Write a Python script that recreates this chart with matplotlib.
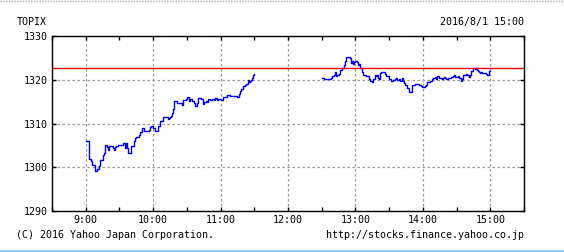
import numpy as np
import matplotlib.pyplot as plt
from matplotlib.lines import Line2D

# Ranni sesiya: hvylyny vid 9:00 ta znachennya TOPIX
am_min = [0, 2, 3, 5, 6, 8, 10, 12, 13, 15, 16, 17, 19, 20, 21, 24, 25, 26, 27, 29,
          33, 35, 36, 37, 38, 40, 43, 44, 45, 47, 48, 50, 52, 56, 57, 58, 60, 62, 64, 66,
          69, 73, 74, 75, 76, 77, 78, 79, 81, 86, 87, 89, 90, 92, 93, 95, 96, 97, 99, 100,
          103, 104, 105, 107, 108, 109, 111, 112, 114, 115, 117, 118, 120, 121, 122, 126, 128, 135, 136, 137,
          138, 140, 142, 143, 144, 145, 146, 147, 148, 149, 150]
am_val = [1306.1, 1306.0, 1301.8, 1301.4, 1300.5, 1299.2, 1299.6, 1300.2, 1301.6, 1302.7,
          1303.3, 1305.2, 1304.7, 1303.9, 1304.9, 1304.3, 1304.0, 1304.7, 1304.8, 1305.2,
          1305.5, 1304.5, 1305.6, 1304.3, 1303.3, 1304.9, 1306.1, 1306.6, 1306.9, 1307.3,
          1308.0, 1308.9, 1308.3, 1308.5, 1309.3, 1309.5, 1308.9, 1308.4, 1309.4, 1310.5,
          1311.5, 1311.1, 1311.2, 1311.5, 1311.7, 1312.4, 1313.4, 1315.2, 1314.8, 1314.2,
          1315.3, 1315.5, 1316.1, 1315.2, 1315.6, 1315.2, 1314.7, 1314.1, 1314.6, 1315.8,
          1315.5, 1314.5, 1315.0, 1315.2, 1315.0, 1315.5, 1315.3, 1315.5, 1315.4, 1315.9,
          1315.4, 1315.6, 1315.4, 1315.3, 1316.1, 1316.5, 1316.2, 1316.1, 1316.8, 1317.4,
          1318.0, 1318.5, 1318.7, 1319.0, 1319.9, 1319.4, 1319.7, 1320.0, 1320.5, 1321.2, 1321.4]

# Vechirnya sesiya: hvylyny vid 12:30
pm_min = [0, 2, 6, 8, 9, 11, 12, 13, 14, 15, 16, 18, 19, 20, 21, 22, 25, 26, 27, 28,
          29, 30, 31, 32, 33, 34, 36, 37, 39, 42, 43, 45, 46, 47, 48, 49, 50, 51, 52, 53,
          55, 56, 57, 60, 62, 63, 65, 66, 67, 69, 70, 71, 72, 73, 74, 76, 78, 80, 83, 87,
          88, 89, 91, 92, 93, 94, 96, 98, 99, 101, 102, 103, 104, 106, 107, 108, 109, 110, 111, 112,
          114, 115, 117, 118, 119, 121, 122, 124, 125, 126, 128, 129, 131, 132, 133, 134, 135, 136, 137, 138,
          139, 140, 141, 142, 143, 146, 147, 148, 149, 150]
pm_val = [1320.4, 1320.1, 1320.2, 1320.3, 1320.9, 1321.1, 1321.7, 1320.8, 1321.1, 1321.3,
          1322.3, 1322.6, 1322.8, 1323.4, 1324.3, 1325.1, 1324.9, 1323.9, 1324.3, 1323.6,
          1324.0, 1324.2, 1324.1, 1323.3, 1323.5, 1322.7, 1321.8, 1321.2, 1320.8, 1320.2,
          1319.7, 1319.4, 1320.2, 1321.1, 1320.9, 1321.1, 1320.5, 1320.1, 1321.5, 1321.8,
          1321.7, 1321.4, 1320.8, 1320.1, 1319.7, 1319.9, 1320.2, 1320.3, 1320.0, 1320.2,
          1319.8, 1320.4, 1319.8, 1319.2, 1318.9, 1318.2, 1317.3, 1318.9, 1319.0, 1318.8,
          1318.5, 1318.4, 1318.3, 1318.5, 1318.8, 1319.5, 1319.7, 1320.2, 1320.5, 1320.6,
          1320.2, 1320.8, 1320.3, 1320.5, 1320.1, 1320.3, 1320.6, 1320.4, 1320.2, 1320.5,
          1320.5, 1320.6, 1320.8, 1321.1, 1320.7, 1320.9, 1320.3, 1319.8, 1320.2, 1321.2,
          1321.3, 1321.2, 1320.7, 1321.2, 1321.9, 1322.1, 1322.6, 1322.4, 1322.7, 1322.2,
          1322.1, 1321.8, 1321.5, 1321.7, 1321.5, 1321.4, 1321.2, 1321.1, 1322.1, 1322.1]

prev_close = 1322.74
hour_ticks = [9, 10, 11, 12, 13, 14, 15]
hour_labels = ['9:00', '10:00', '11:00', '12:00', '13:00', '14:00', '15:00']
y_ticks = [1290, 1300, 1310, 1320, 1330]

plt.rcParams['font.family'] = ['DejaVu Sans Mono']
fs = 7.2

fig = plt.figure(figsize=(5.64, 2.52), dpi=100)
ax = fig.add_axes([52 / 564, 41 / 252, 472 / 564, 175 / 252])

# Perevedennya hvylyn u godyny
am_x = 9 + np.array(am_min) / 60
pm_x = 12.5 + np.array(pm_min) / 60

ax.plot(am_x, am_val, drawstyle='steps-post', color='#0000ff', linewidth=1.0)
ax.plot(pm_x, pm_val, drawstyle='steps-post', color='#0000ff', linewidth=1.0)
ax.axhline(prev_close, color='#ff0000', linewidth=1.0)

ax.set_xlim(8.5, 15.5)
ax.set_ylim(1290, 1330)
ax.set_xticks(hour_ticks)
ax.set_xticklabels(hour_labels)
ax.set_xticks(np.arange(8.5, 15.6, 0.5), minor=True)
ax.set_yticks(y_ticks)
ax.set_yticklabels([str(v) for v in y_ticks])

ax.grid(True, which='major', color='#999999', linestyle=(0, (2, 2)), linewidth=0.9)
ax.tick_params(which='both', direction='in', length=3, top=True, right=True,
               labelsize=fs, pad=3, width=1)
for s in ax.spines.values():
    s.set_linewidth(1)

fig.text(17 / 564, 1 - 22 / 252, 'TOPIX', fontsize=fs, va='center', ha='left')
fig.text(524 / 564, 1 - 22 / 252, '2016/8/1 15:00', fontsize=fs, va='center', ha='right')
fig.text(16 / 564, 1 - 235 / 252, '(C) 2016 Yahoo Japan Corporation.', fontsize=fs,
         va='center', ha='left')
fig.text(524 / 564, 1 - 235 / 252, 'http://stocks.finance.yahoo.co.jp', fontsize=fs,
         va='center', ha='right')

# Ramka storinky
fig.add_artist(Line2D([0, 1], [0.998, 0.998], transform=fig.transFigure,
                      color='#aaaaaa', linestyle=(0, (1, 1)), linewidth=1))
fig.add_artist(Line2D([0, 1], [0.004, 0.004], transform=fig.transFigure,
                      color='#99ccee', linewidth=1.5))

fig.savefig('out.png', dpi=100)
